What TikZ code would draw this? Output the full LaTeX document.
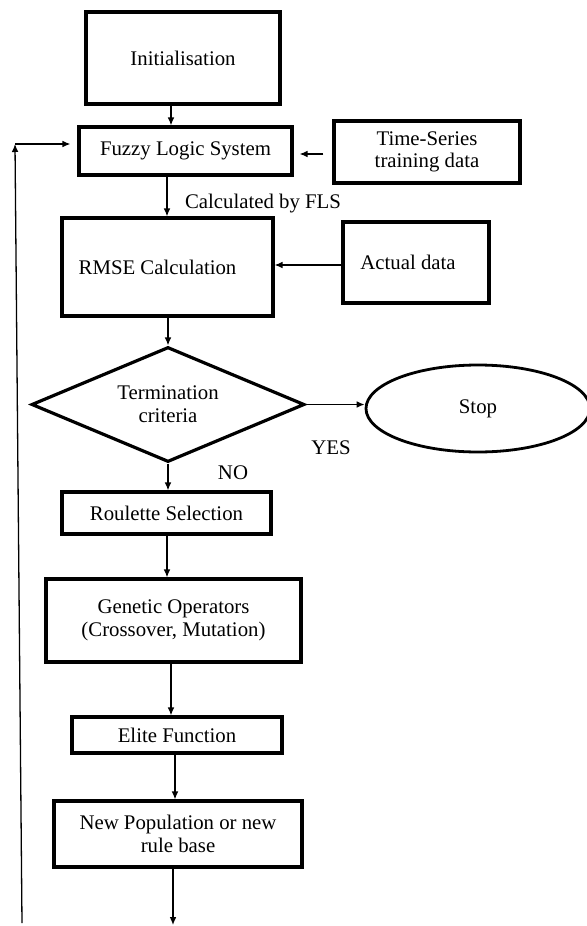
\documentclass[tikz,border=0pt]{standalone}
\usepackage{fontspec}
\setmainfont{Liberation Serif}
\usetikzlibrary{arrows.meta,shapes.geometric}

\tikzset{
  box/.style={draw,line width=1.6pt,align=center,inner sep=2pt},
  arr/.style={-{Latex[length=4pt,width=3.4pt]},line width=0.65pt},
}

\begin{document}
\begin{tikzpicture}[x=0.5pt,y=-0.5pt,font=\fontsize{10.4}{11.3}\selectfont]
\useasboundingbox (0,0) rectangle (587,926);
% main column
\node[box,minimum width=97pt,minimum height=46pt] (init) at (183,58) {Initialisation};
\node[box,minimum width=106.5pt,minimum height=24pt] (fls) at (185.5,151) {Fuzzy Logic System};
\node[box,minimum width=105.5pt,minimum height=49pt] (rmse) at (167.5,267) {RMSE Calculation\hspace*{10pt}};
\node[diamond,draw,line width=1.6pt,aspect=2.4,inner sep=0pt,align=center,
  minimum width=136.5pt,minimum height=57.5pt] (term) at (168,404.5) {Termination\\criteria};
\node[box,minimum width=104.5pt,minimum height=21pt] (roul) at (166.5,513) {Roulette Selection};
\node[box,minimum width=127.5pt,minimum height=41.5pt] (genop) at (173.5,620.5) {Genetic Operators\\(Crossover, Mutation)};
\node[box,minimum width=105pt,minimum height=18pt] (elite) at (177,735) {Elite Function};
\node[box,minimum width=124pt,minimum height=33pt] (newpop) at (178,834) {New Population or new\\rule base};
% side column
\node[box,minimum width=93pt,minimum height=31pt] (tsdata) at (427,152) {Time-Series\\training data};
\node[box,minimum width=73pt,minimum height=40.5pt] (actual) at (416,262.5) {Actual data\hspace*{8pt}};
\node[ellipse,draw,line width=1.4pt,minimum width=112pt,minimum height=43.5pt] (stop) at (478,408.5) {Stop};
% labels
\node (calclbl) at (263,204) {Calculated by FLS};
\node (yeslbl) at (331,448) {YES};
\node (nolbl) at (233,473) {NO};
% loop back
\coordinate (loopbot) at (22,923);
\coordinate (loopcorner) at (15,144);
\coordinate (endpt) at (173,925);

\draw[arr] (init.south -| 171,0) -- (fls.north -| 171,0);
\draw[arr,shorten <=4.5pt,shorten >=3pt] (tsdata.west |- 0,154) -- (fls.east |- 0,154);
\draw[arr] (fls.south -| 167,0) -- (rmse.north -| 167,0);
\draw[arr] (actual.west |- 0,265) -- (rmse.east |- 0,265);
\draw[arr] (rmse.south -| term.north) -- (term.north);
\draw[arr] (term.east) -- (stop.west |- term.east);
\draw[arr] (term.south) -- (roul.north -| term.south);
\draw[arr] (roul.south -| 167,0) -- (genop.north -| 167,0);
\draw[arr] (genop.south -| 171,0) -- (elite.north -| 171,0);
\draw[arr] (elite.south -| 175,0) -- (newpop.north -| 175,0);
\draw[arr] (newpop.south -| endpt) -- (endpt);
\draw[arr] (loopbot) -- (loopcorner);
\draw[arr,shorten >=3.5pt] (loopcorner) -- (fls.west |- loopcorner);
\end{tikzpicture}
\end{document}
